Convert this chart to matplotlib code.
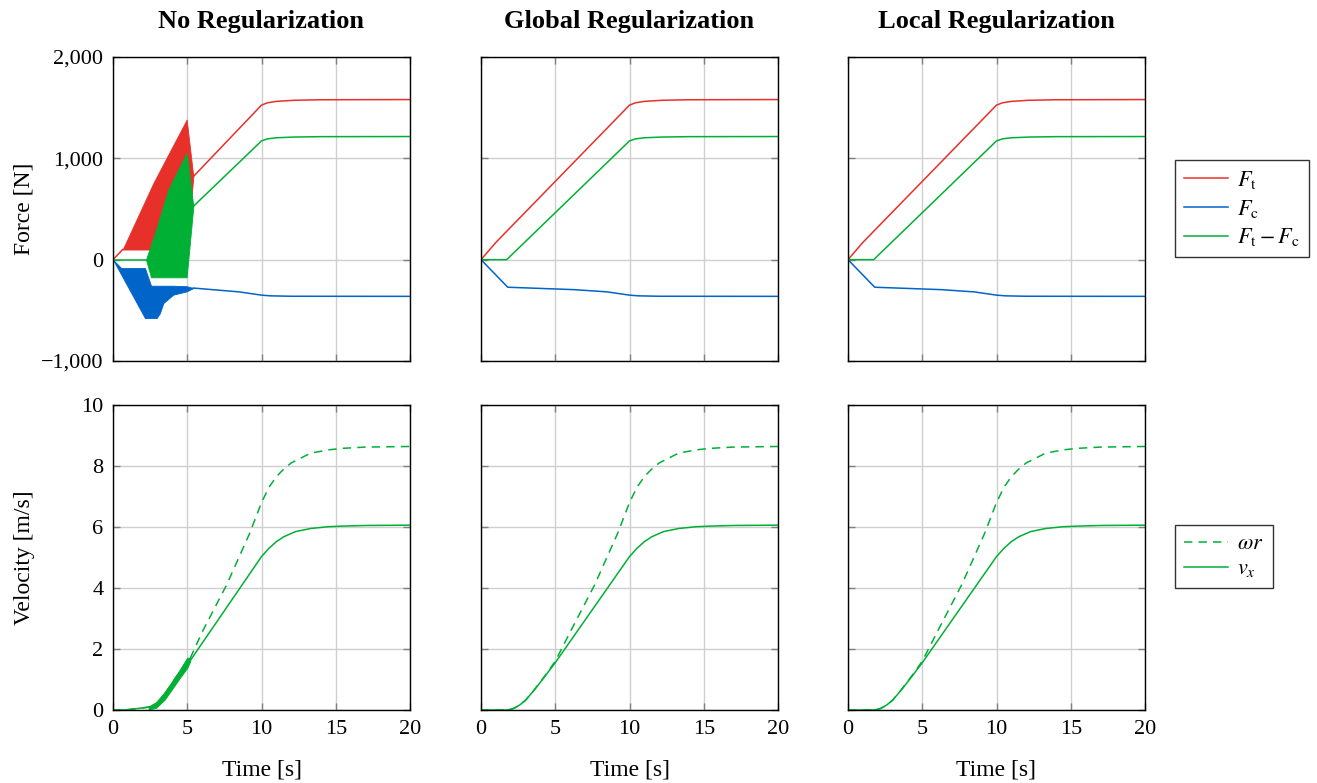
import numpy as np
import matplotlib
matplotlib.use("Agg")
import matplotlib.pyplot as plt
from matplotlib.ticker import FuncFormatter

plt.rcParams['font.family'] = ['Liberation Serif', 'DejaVu Serif']
plt.rcParams['mathtext.fontset'] = 'stix'

RED = '#e8302a'
BLUE = '#0064c8'
GREEN = '#00b035'

titles = ['No Regularization', 'Global Regularization', 'Local Regularization']

# ---- force data, no regularization (oscillating part given as envelopes) ----
t_ft_start = [0, 0.65]
ft_start = [0, 100]
t_ft_band = [0.65, 2.72, 4.96, 5.41]
ft_band_hi = [100, 757, 1382, 820]
ft_band_lo = [100, 100, 100, 820]
t_ft_end = [5.41, 10.0, 10.4, 11.0, 12.2, 14.0, 20.0]
ft_end = [820, 1525, 1548, 1562, 1573, 1578, 1580]

t_fc_band = [0, 0.55, 2.15, 2.56, 2.94, 3.15, 3.39, 4.06, 4.96, 5.41]
fc_band_hi = [0, -82, -82, -257, -257, -257, -257, -257, -262, -280]
fc_band_lo = [0, -147, -576, -576, -576, -530, -428, -345, -313, -280]
t_fc_end = [5.41, 8.5, 10.0, 10.6, 12.0, 20.0]
fc_end = [-280, -318, -350, -357, -361, -362]

t_fd_start = [0, 0, 2.22]
fd_start = [90, 0, 0]
t_fd_band = [2.22, 2.56, 2.83, 3.72, 4.96, 5.41]
fd_band_hi = [0, 150, 263, 691, 1053, 526]
fd_band_lo = [0, -174, -174, -174, -174, 526]
t_fd_end = [5.41, 10.0, 10.4, 11.0, 12.2, 14.0, 20.0]
fd_end = [526, 1172, 1192, 1203, 1210, 1214, 1215]

# ---- force data, regularized ----
t_ft = [0, 1.0, 10.0, 10.4, 11.0, 12.2, 14.0, 20.0]
ft = [0, 170, 1525, 1548, 1562, 1573, 1578, 1580]
t_fc = [0, 1.8, 6.3, 8.5, 10.0, 10.6, 12.0, 20.0]
fc = [0, -272, -296, -318, -350, -357, -361, -362]
t_fd = [0, 0, 1.73, 10.0, 10.4, 11.0, 12.2, 14.0, 20.0]
fd = [100, 0, 0, 1172, 1192, 1203, 1210, 1214, 1215]

# ---- velocity data, no regularization ----
t_vl = [0, 0.8, 1.5, 2.5, 2.9, 3.3, 3.8, 4.3, 5.0, 5.2, 10.0, 10.5, 11.0, 11.5,
        12.3, 13.3, 14.5, 15.5, 17.0, 20.0]
vx_l = [0, 0.0, 0.04, 0.1, 0.16, 0.4, 0.75, 1.1, 1.5, 1.62, 5.03, 5.3, 5.52, 5.68,
        5.85, 5.95, 6.01, 6.03, 6.05, 6.06]
t_wl = [0, 0.8, 1.5, 2.5, 2.9, 3.3, 3.8, 4.3, 5.0, 5.2, 6.0, 7.65, 9.2, 10.0, 10.5,
        11.0, 11.5, 12.0, 13.3, 14.5, 15.5, 17.0, 20.0]
wr_l = [0, 0.0, 0.04, 0.1, 0.16, 0.4, 0.75, 1.12, 1.55, 1.7, 2.55, 4.1, 5.79, 6.8, 7.3,
        7.65, 7.9, 8.1, 8.42, 8.53, 8.58, 8.62, 8.64]
t_vband = [2.4, 2.9, 3.5, 4.0, 4.5, 5.0, 5.2]
vband_hi = [0.12, 0.26, 0.6, 0.95, 1.33, 1.72, 1.7]
vband_lo = [0.02, 0.07, 0.35, 0.7, 1.05, 1.38, 1.6]

# ---- velocity data, regularized ----
t_vx = [0, 1.8, 2.2, 2.6, 3.0, 3.6, 4.3, 5.0, 10.0, 10.5, 11.0, 11.5, 12.3, 13.3,
        14.5, 15.5, 17.0, 20.0]
vx = [0, 0, 0.05, 0.16, 0.32, 0.66, 1.1, 1.55, 5.03, 5.3, 5.52, 5.68, 5.85, 5.95,
      6.01, 6.03, 6.05, 6.06]
t_wr = [0, 1.8, 2.2, 2.6, 3.0, 3.6, 4.3, 5.0, 6.0, 7.65, 9.2, 10.0, 10.5, 11.0,
        11.5, 12.0, 13.3, 14.5, 15.5, 17.0, 20.0]
wr = [0, 0, 0.05, 0.16, 0.32, 0.67, 1.12, 1.6, 2.55, 4.1, 5.79, 6.8, 7.3, 7.65,
      7.9, 8.1, 8.42, 8.53, 8.58, 8.62, 8.64]

fig = plt.figure(figsize=(13.17, 7.83), dpi=100)
lefts = [113, 481, 848]
W, H = 1317.0, 783.0
axes_top = []
axes_bot = []
for l in lefts:
    axes_top.append(fig.add_axes([l / W, 1 - 361 / H, 297 / W, 304 / H]))
    axes_bot.append(fig.add_axes([l / W, 1 - 710 / H, 297 / W, 305 / H]))

fmt = FuncFormatter(lambda v, p: f"{int(v):,}".replace('-', '\u2212'))
lw = 1.1
dash = (5.5, 4)

for i, ax in enumerate(axes_top):
    if i == 0:
        ax.plot(t_ft_start, ft_start, color=RED, lw=lw)
        ax.fill_between(t_ft_band, ft_band_lo, ft_band_hi, color=RED, lw=0.6, edgecolor=RED)
        ax.plot(t_ft_end, ft_end, color=RED, lw=lw)
        ax.fill_between(t_fc_band, fc_band_lo, fc_band_hi, color=BLUE, lw=0.6, edgecolor=BLUE)
        ax.plot(t_fc_end, fc_end, color=BLUE, lw=lw)
        ax.plot(t_fd_start, fd_start, color=GREEN, lw=lw)
        ax.fill_between(t_fd_band, fd_band_lo, fd_band_hi, color=GREEN, lw=0.6, edgecolor=GREEN)
        ax.plot(t_fd_end, fd_end, color=GREEN, lw=lw)
    else:
        ax.plot(t_ft, ft, color=RED, lw=lw, label=r'$F_\mathrm{t}$')
        ax.plot(t_fc, fc, color=BLUE, lw=lw, label=r'$F_\mathrm{c}$')
        ax.plot(t_fd, fd, color=GREEN, lw=lw, label=r'$F_\mathrm{t} - F_\mathrm{c}$')
    ax.set_ylim(-1000, 2000)
    ax.set_yticks([-1000, 0, 1000, 2000])
    ax.yaxis.set_major_formatter(fmt)
    ax.set_title(titles[i], fontsize=19, fontweight='bold', pad=21)
    ax.tick_params(labelbottom=False)
    if i > 0:
        ax.tick_params(labelleft=False)

for i, ax in enumerate(axes_bot):
    if i == 0:
        ax.plot(t_wl, wr_l, color=GREEN, lw=lw, dashes=dash, label=r'$\omega r$')
        ax.plot(t_vl, vx_l, color=GREEN, lw=lw, label=r'$v_x$')
        ax.fill_between(t_vband, vband_lo, vband_hi, color=GREEN, lw=0.6, edgecolor=GREEN)
    else:
        ax.plot(t_wr, wr, color=GREEN, lw=lw, dashes=dash, label=r'$\omega r$')
        ax.plot(t_vx, vx, color=GREEN, lw=lw, label=r'$v_x$')
    ax.set_ylim(0, 10)
    ax.set_yticks([0, 2, 4, 6, 8, 10])
    ax.set_xlabel('Time [s]', fontsize=17, labelpad=15)
    if i > 0:
        ax.tick_params(labelleft=False)

for ax in axes_top + axes_bot:
    ax.set_xlim(0, 20)
    ax.set_xticks([0, 5, 10, 15, 20])
    ax.grid(True, color='#cfcfcf', lw=1.0)
    ax.set_axisbelow(True)
    ax.tick_params(direction='in', length=5, width=1.0, color='#808080',
                   top=True, right=True, labelsize=16, pad=7)
    for s in ax.spines.values():
        s.set_linewidth(1.0)
        s.set_color('black')

axes_top[0].set_ylabel('Force [N]', fontsize=17)
axes_bot[0].set_ylabel('Velocity [m/s]', fontsize=17)
axes_top[0].yaxis.set_label_coords(-0.263, 0.5)
axes_bot[0].yaxis.set_label_coords(-0.263, 0.5)

leg1 = axes_top[2].legend(loc='upper left', bbox_to_anchor=(1.101, 0.661), fontsize=16,
                          frameon=True, fancybox=False, edgecolor='black',
                          handlelength=2.0, borderaxespad=0, labelspacing=0.3,
                          handletextpad=0.4)
leg1.get_frame().set_linewidth(1.0)
leg2 = axes_bot[2].legend(loc='upper left', bbox_to_anchor=(1.101, 0.607), fontsize=16,
                          frameon=True, fancybox=False, edgecolor='black',
                          handlelength=2.0, borderaxespad=0, labelspacing=0.2,
                          handletextpad=0.4)
leg2.get_frame().set_linewidth(1.0)

fig.savefig('out.png', dpi=100)
